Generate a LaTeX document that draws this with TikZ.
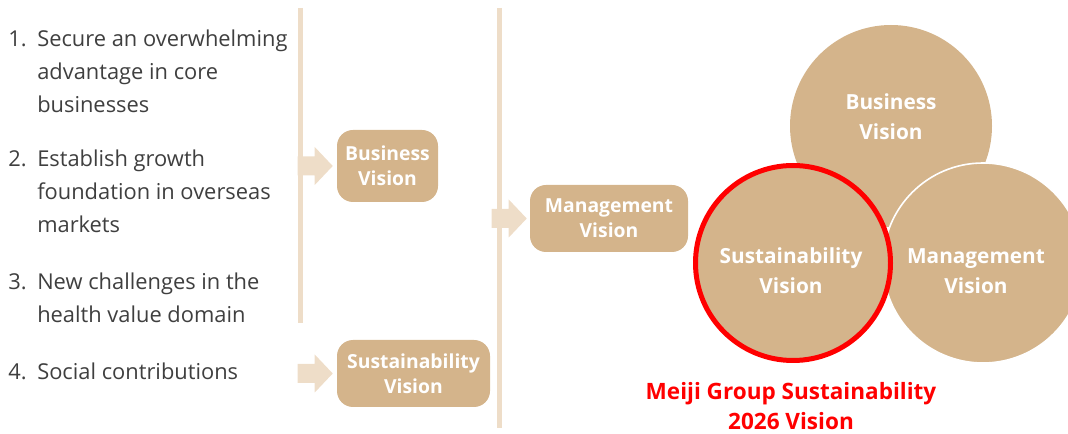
\documentclass[tikz,border=0pt]{standalone}
\usepackage{fontspec}
\setmainfont{Open Sans}
\usetikzlibrary{calc}
\definecolor{tan}{HTML}{D4B48B}
\definecolor{lighttan}{HTML}{EEDDC8}
\definecolor{txtgrey}{HTML}{3F3F3F}
\definecolor{meijired}{HTML}{FF0000}
\begin{document}
\begin{tikzpicture}[x=0.75pt,y=-0.75pt,
  item/.style={anchor=north west, inner sep=0pt, align=left, text=txtgrey,
    font=\fontsize{16.4}{24.7}\selectfont},
  vbox/.style={fill=tan, rounded corners=12pt, text=white, align=center, inner sep=0pt,
    font=\bfseries\fontsize{14.5}{18.75}\selectfont},
  vcirc/.style={circle, fill=tan, inner sep=0pt},
  ctext/.style={text=white, align=center, inner sep=0pt,
    font=\bfseries\fontsize{15.6}{22.5}\selectfont},
  vline/.style={draw=lighttan, line width=3.75pt},
  blockarrow/.pic={\fill[lighttan] (0,0) -- (-18,-19) -- (-18,-9.5) -- (-35,-9.5)
    -- (-35,9.5) -- (-18,9.5) -- (-18,19) -- cycle;},
  title/.style={text=meijired, align=center, inner sep=0pt,
    font=\bfseries\fontsize{16.9}{22.5}\selectfont}
]
\useasboundingbox (0,0) rectangle (1068,434);

% vertical lines
\coordinate (l1top) at (300.5,8);
\coordinate (l1bot) at (300.5,323);
\coordinate (l2top) at (499,8);
\coordinate (l2bot) at (499,428);
\draw[vline] (l1top) -- (l1bot);
\draw[vline] (l2top) -- (l2bot);

% left list
\node[item] (i1) at (8,30) {\makebox[21.75pt][l]{1.}Secure an overwhelming\\\hspace*{21.75pt}advantage in core\\\hspace*{21.75pt}businesses};
\node[item] (i2) at (8,150) {\makebox[21.75pt][l]{2.}Establish growth\\\hspace*{21.75pt}foundation in overseas\\\hspace*{21.75pt}markets};
\node[item] (i3) at (8,273) {\makebox[21.75pt][l]{3.}New challenges in the\\\hspace*{21.75pt}health value domain};
\node[item] (i4) at (8,363) {\makebox[21.75pt][l]{4.}Social contributions};

% boxes
\node[vbox, minimum width=75.75pt, minimum height=54pt] (bbox) at (387.5,166) {Business\\Vision};
\node[vbox, minimum width=114.75pt, minimum height=50.25pt] (sbox) at (413.5,373.5) {Sustainability\\Vision};
\node[vbox, minimum width=118.5pt, minimum height=50.25pt] (mbox) at (609,218.5) {Management\\Vision};

% block arrows
\pic at ($(bbox.west)+(-4,0)$) {blockarrow};
\pic at ($(sbox.west)+(-4,0)$) {blockarrow};
\pic at ($(mbox.west)+(-3,0)$) {blockarrow};

% circles
\node[vcirc, minimum size=151.5pt] (cb) at (891,126) {};
\node[vcirc, draw=white, line width=1.2pt, minimum size=150pt] (cm) at (983,263) {};
\node[vcirc, draw=meijired, line width=3.75pt, minimum size=146.25pt] (cs) at (793,263) {};
\node[ctext] (tb) at ($(cb)+(0,-9)$) {Business\\Vision};
\node[ctext] (ts) at ($(cs)+(-2,8)$) {Sustainability\\Vision};
\node[ctext] (tm) at ($(cm)+(-7,8)$) {Management\\Vision};

% title
\node[title] (ttl) at (791,406) {Meiji Group Sustainability\\2026 Vision};
\end{tikzpicture}
\end{document}
